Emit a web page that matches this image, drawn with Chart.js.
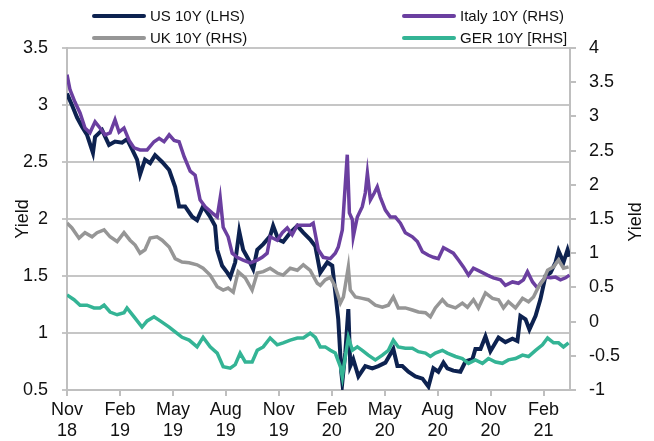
<!DOCTYPE html>
<html lang="en">
<head>
<meta charset="UTF-8">
<title>10Y yields</title>
<style>
  body { margin: 0; background: #fff; font-family: "Liberation Sans", Arial, sans-serif; }
  .wrap { position: relative; width: 654px; height: 441px; }
  .legend-item {
    position: absolute;
    display: flex;
    align-items: center;
    font-size: 15px;
    color: #111;
    white-space: nowrap;
  }
  .swatch { width: 54px; height: 4px; margin-right: 4px; border-radius: 2px; }
</style>
<script src="https://cdn.jsdelivr.net/npm/chart.js"></script>
</head>
<body>
<div class="wrap">
  <canvas id="yieldChart" width="654" height="441"></canvas>
  <div id="legend"></div>
</div>
<script>
// x values are months since 1 Nov 2018
const tickMonths = [0, 3, 6, 9, 12, 15, 18, 21, 24, 27];
const tickLabels = [['Nov', '18'], ['Feb', '19'], ['May', '19'], ['Aug', '19'], ['Nov', '19'],
                    ['Feb', '20'], ['May', '20'], ['Aug', '20'], ['Nov', '20'], ['Feb', '21']];

const usMonths = [0, 0.28, 0.57, 0.85, 1.13, 1.47, 1.59, 1.99, 2.38, 2.72, 3.12, 3.4, 3.69, 3.97, 4.14, 4.42,
  4.71, 4.99, 5.39, 5.79, 6.13, 6.35, 6.69, 7.09, 7.37, 7.71, 8.11, 8.39, 8.51, 8.79, 9.08, 9.25, 9.53, 9.76,
  9.98, 10.27, 10.55, 10.78, 11.12, 11.51, 11.68, 11.97, 12.25, 12.65, 13.05, 13.39, 13.78, 14.07, 14.35,
  14.75, 15.03, 15.2, 15.37, 15.54, 15.6, 15.77, 15.94, 16.05, 16.22, 16.51, 16.9, 17.3, 17.64, 18.04, 18.49,
  18.72, 19.0, 19.34, 19.74, 20.14, 20.48, 20.76, 21.04, 21.33, 21.55, 21.89, 22.29, 22.58, 22.97, 23.14,
  23.43, 23.71, 23.99, 24.45, 24.84, 25.24, 25.52, 25.69, 25.98, 26.2, 26.55, 26.83, 27.11, 27.4, 27.68,
  27.85, 28.13, 28.36, 28.47];
const usYield = [3.10, 3.00, 2.89, 2.81, 2.74, 2.58, 2.72, 2.78, 2.65, 2.68, 2.67, 2.70, 2.61, 2.52, 2.39, 2.52,
  2.49, 2.56, 2.50, 2.43, 2.28, 2.11, 2.11, 2.02, 1.99, 2.11, 2.02, 1.94, 1.73, 1.59, 1.53, 1.49, 1.62, 1.89,
  1.73, 1.65, 1.56, 1.73, 1.78, 1.85, 1.94, 1.82, 1.80, 1.88, 1.94, 1.88, 1.82, 1.76, 1.53,
  1.62, 1.59, 1.36, 1.12, 0.66, 0.57, 0.83, 1.21, 0.71, 0.77, 0.62, 0.71, 0.69, 0.71, 0.74, 0.86,
  0.71, 0.71, 0.66, 0.62, 0.60, 0.53, 0.69, 0.66, 0.74, 0.69, 0.67, 0.66, 0.75, 0.77, 0.86,
  0.86, 0.97, 0.84, 0.96, 0.92, 0.95, 0.93, 1.15, 1.12, 1.03, 1.15, 1.30, 1.50, 1.53, 1.62,
  1.72, 1.62, 1.73, 1.67];

const itMonths = [0, 0.17, 0.45, 0.74, 1.02, 1.3, 1.59, 1.87, 2.16, 2.44, 2.72, 2.95, 3.23, 3.52, 3.8, 4.14,
  4.54, 4.93, 5.22, 5.5, 5.79, 6.07, 6.35, 6.64, 6.98, 7.26, 7.54, 7.83, 8.22, 8.51, 8.68, 8.85, 9.13, 9.36,
  9.64, 9.98, 10.38, 10.78, 11.06, 11.34, 11.51, 11.91, 12.2, 12.48, 12.76, 13.05, 13.39, 13.78, 13.95,
  14.24, 14.52, 14.92, 15.2, 15.37, 15.6, 15.71, 15.88, 16.0, 16.17, 16.22, 16.45, 16.73, 16.9, 17.02,
  17.19, 17.41, 17.58, 17.75, 18.04, 18.32, 18.6, 18.89, 19.17, 19.57, 19.85, 20.14, 20.48, 20.76, 21.04,
  21.33, 21.55, 21.89, 22.18, 22.46, 22.75, 23.03, 23.43, 23.82, 24.16, 24.56, 24.84, 25.24, 25.58, 25.86,
  26.09, 26.38, 26.66, 26.83, 27.11, 27.4, 27.68, 27.96, 28.25, 28.47];
const itYield = [3.61, 3.39, 3.21, 3.05, 2.83, 2.76, 2.92, 2.83, 2.73, 2.76, 2.95, 2.77, 2.83, 2.65, 2.54, 2.51,
  2.51, 2.63, 2.68, 2.63, 2.73, 2.65, 2.63, 2.41, 2.20, 2.14, 1.78, 1.68, 1.59, 1.53, 1.81, 1.38, 1.24, 1.00,
  0.94, 0.90, 0.86, 0.90, 0.94, 1.00, 1.24, 1.19, 1.30, 1.37, 1.27, 1.41, 1.41, 1.41, 1.44,
  1.05, 0.94, 0.92, 1.00, 1.09, 1.34, 1.78, 2.44, 1.59, 1.49, 1.24, 1.53, 1.68, 1.88, 2.17,
  1.78, 1.88, 1.97, 1.82, 1.63, 1.53, 1.53, 1.44, 1.30, 1.24, 1.17, 1.02, 0.97, 0.94, 0.92,
  1.08, 1.05, 1.00, 0.90, 0.80, 0.68, 0.78, 0.73, 0.68, 0.64, 0.61, 0.53, 0.58, 0.56, 0.61,
  0.73, 0.58, 0.49, 0.56, 0.65, 0.64, 0.65, 0.61, 0.64, 0.68];

const ukMonths = [0, 0.28, 0.68, 1.02, 1.42, 1.7, 2.1, 2.44, 2.84, 3.23, 3.57, 3.86, 4.14, 4.42, 4.71, 5.1,
  5.39, 5.79, 6.13, 6.52, 6.92, 7.37, 7.71, 8.11, 8.51, 8.85, 9.13, 9.42, 9.7, 10.1, 10.49, 10.78, 11.12,
  11.51, 11.91, 12.25, 12.65, 13.05, 13.39, 13.78, 14.18, 14.35, 14.63, 14.92, 15.2, 15.49, 15.66, 15.94,
  16.05, 16.34, 16.73, 17.07, 17.47, 17.87, 18.21, 18.49, 18.77, 19.17, 19.57, 19.91, 20.31, 20.59, 20.87,
  21.27, 21.55, 22.01, 22.4, 22.69, 23.03, 23.31, 23.71, 24.11, 24.45, 24.73, 25.01, 25.41, 25.81, 26.15,
  26.43, 26.72, 27.0, 27.23, 27.57, 27.85, 28.13, 28.42];
const ukYield = [1.44, 1.37, 1.22, 1.30, 1.24, 1.30, 1.34, 1.24, 1.17, 1.30, 1.19, 1.12, 1.00, 1.05, 1.22, 1.24,
  1.19, 1.09, 0.92, 0.87, 0.86, 0.83, 0.78, 0.68, 0.51, 0.46, 0.49, 0.43, 0.73, 0.64, 0.46, 0.71, 0.73,
  0.78, 0.71, 0.68, 0.78, 0.75, 0.83, 0.75, 0.56, 0.53, 0.61, 0.65, 0.51, 0.27, 0.36, 0.80,
  0.46, 0.36, 0.34, 0.32, 0.24, 0.21, 0.24, 0.36, 0.20, 0.20, 0.17, 0.14, 0.13, 0.07, 0.20,
  0.32, 0.24, 0.20, 0.27, 0.21, 0.32, 0.20, 0.42, 0.34, 0.32, 0.20, 0.29, 0.20, 0.34, 0.29,
  0.36, 0.51, 0.61, 0.75, 0.80, 0.90, 0.78, 0.80];

const gerMonths = [0, 0.4, 0.74, 1.13, 1.53, 1.87, 2.1, 2.44, 2.84, 3.23, 3.4, 3.8, 4.25, 4.54, 4.93, 5.28,
  5.79, 6.13, 6.52, 6.92, 7.37, 7.71, 8.11, 8.51, 8.85, 9.25, 9.53, 9.81, 10.1, 10.49, 10.78, 11.12, 11.51,
  11.91, 12.25, 12.65, 13.05, 13.39, 13.78, 14.07, 14.35, 14.63, 14.92, 15.2, 15.49, 15.6, 15.77, 15.94,
  16.17, 16.45, 16.73, 17.07, 17.47, 17.87, 18.21, 18.49, 18.77, 19.17, 19.57, 19.91, 20.31, 20.59, 20.87,
  21.27, 21.55, 22.01, 22.4, 22.75, 23.14, 23.54, 23.88, 24.28, 24.67, 25.01, 25.41, 25.81, 26.15, 26.55,
  26.94, 27.23, 27.57, 27.85, 28.13, 28.42];
const gerYield = [0.39, 0.32, 0.24, 0.24, 0.20, 0.20, 0.24, 0.14, 0.10, 0.13, 0.20, 0.07, -0.08, 0.01, 0.07, 0.01,
  -0.08, -0.15, -0.23, -0.27, -0.37, -0.23, -0.37, -0.46, -0.66, -0.68, -0.63, -0.46, -0.59, -0.59, -0.42, -0.37, -0.24,
  -0.34, -0.31, -0.27, -0.24, -0.24, -0.17, -0.23, -0.37, -0.37, -0.42, -0.46, -0.66, -0.81, -0.51, -0.23,
  -0.42, -0.37, -0.42, -0.49, -0.56, -0.49, -0.42, -0.27, -0.37, -0.39, -0.39, -0.44, -0.46, -0.51, -0.46,
  -0.42, -0.46, -0.51, -0.54, -0.61, -0.56, -0.61, -0.54, -0.59, -0.61, -0.56, -0.54, -0.49, -0.51, -0.42,
  -0.34, -0.24, -0.31, -0.31, -0.37, -0.31];

const textColor = '#111';
const axisColor = '#bfbfbf';
const tickFont = { family: '"Liberation Sans", Arial, sans-serif', size: 18 };

function toPoints(xs, ys) {
  return xs.map((x, i) => ({ x: x, y: ys[i] }));
}

const datasets = [
  { label: 'US 10Y (LHS)', data: toPoints(usMonths, usYield), yAxisID: 'y', borderColor: '#0d2250', borderWidth: 4, order: 4 },
  { label: 'Italy 10Y (RHS)', data: toPoints(itMonths, itYield), yAxisID: 'y2', borderColor: '#6b3fa0', borderWidth: 3.5, order: 3 },
  { label: 'UK 10Y (RHS)', data: toPoints(ukMonths, ukYield), yAxisID: 'y2', borderColor: '#969696', borderWidth: 3.5, order: 2 },
  { label: 'GER 10Y [RHS]', data: toPoints(gerMonths, gerYield), yAxisID: 'y2', borderColor: '#34b495', borderWidth: 3.5, order: 1 }
];
datasets.forEach(d => { d.pointRadius = 0; d.tension = 0; d.fill = false; });

// legend, 2 x 2 grid like the original
const legendSlots = [[92, 7], [402, 7], [92, 29], [402, 29]];
const legendBox = document.getElementById('legend');
datasets.forEach((d, i) => {
  const item = document.createElement('div');
  item.className = 'legend-item';
  item.style.left = legendSlots[i][0] + 'px';
  item.style.top = legendSlots[i][1] + 'px';
  item.innerHTML = '<span class="swatch" style="background:' + d.borderColor + '"></span>' + d.label;
  legendBox.appendChild(item);
});

const rightTitle = {
  id: 'rightTitle',
  afterDraw(chart) {
    const ctx = chart.ctx;
    ctx.save();
    ctx.translate(636, 222);
    ctx.rotate(-Math.PI / 2);
    ctx.font = '18px "Liberation Sans", Arial, sans-serif';
    ctx.fillStyle = textColor;
    ctx.textAlign = 'center';
    ctx.textBaseline = 'middle';
    ctx.fillText('Yield', 0, 0);
    ctx.restore();
  }
};

const ctx = document.getElementById('yieldChart').getContext('2d');
new Chart(ctx, {
  type: 'line',
  data: { datasets: datasets },
  plugins: [rightTitle],
  options: {
    responsive: false,
    animation: false,
    layout: { padding: { top: 48, left: 0, right: 0, bottom: 0 } },
    plugins: { legend: { display: false }, tooltip: { enabled: false } },
    scales: {
      x: {
        type: 'linear',
        min: 0,
        max: 28.5,
        afterBuildTicks: s => { s.ticks = tickMonths.map(v => ({ value: v })); },
        afterFit: s => { s.height = 51; },
        ticks: {
          autoSkip: false,
          maxRotation: 0,
          padding: 3,
          color: textColor,
          font: tickFont,
          callback: (v, i) => tickLabels[i]
        },
        grid: { drawOnChartArea: false, tickLength: 6, color: axisColor, lineWidth: 2 },
        border: { color: axisColor, width: 2 }
      },
      y: {
        position: 'left',
        min: 0.5,
        max: 3.5,
        afterFit: s => { s.width = 67; },
        ticks: { stepSize: 0.5, padding: 14, color: textColor, font: tickFont, callback: v => String(v) },
        grid: { color: '#c6c6c6', lineWidth: 2, tickLength: 5 },
        border: { color: axisColor, width: 2 },
        title: { display: true, text: 'Yield', color: textColor, font: tickFont, padding: { top: 12, bottom: 0 } }
      },
      y2: {
        position: 'right',
        min: -1,
        max: 4,
        afterFit: s => { s.width = 84; },
        ticks: { stepSize: 0.5, padding: 13, color: textColor, font: tickFont, callback: v => String(v) },
        grid: { drawOnChartArea: false, tickLength: 6, color: axisColor, lineWidth: 2 },
        border: { color: axisColor, width: 2 }
      }
    }
  }
});
</script>
</body>
</html>
